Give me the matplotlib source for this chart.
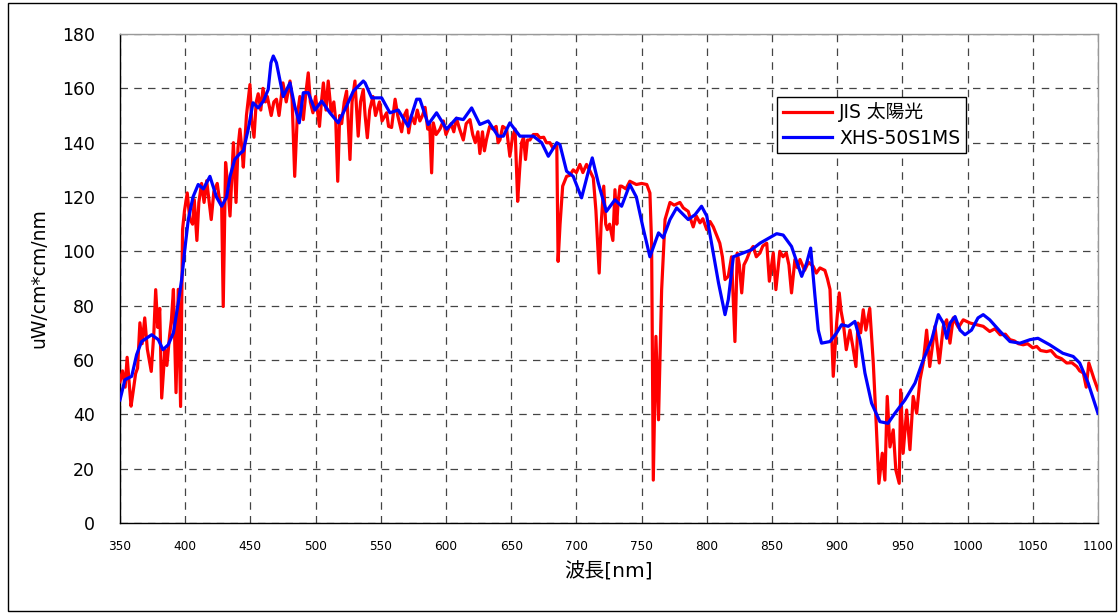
import matplotlib
matplotlib.use('Agg')
import matplotlib.pyplot as plt
from matplotlib.patches import Rectangle

plt.rcParams['font.family'] = ['DejaVu Sans', 'Noto Sans CJK JP']

# ── data ─────────────────────────────────────────────────────
jis_wl = [350, 352, 354, 355.5, 357, 358.5, 360, 362, 363.5, 365.3, 367, 369, 371, 374, 376,
          377.4, 379, 380.5, 382, 384.5, 386, 388, 389.5, 391, 393, 394.7, 396.5, 398, 399.5,
          401.6, 403.5, 405.7, 407, 409, 410.5, 412.6, 414.5, 416.5, 418, 420, 422, 424.6, 426,
          428, 429.2, 431, 432.5, 434.4, 437, 439, 440.5, 442, 443.5, 444.6, 447, 449.7, 451,
          452.8, 454.5, 456, 458, 459.7, 461.5, 463, 466, 468, 470, 472, 475, 477.5, 480.4, 482,
          484, 486, 488, 490.6, 492.5, 494.4, 496, 498, 500, 503, 504.5, 506, 508, 509.7, 512,
          514, 515.5, 517, 518.5, 520, 522, 523.8, 525, 526.4, 528, 530.2, 532.7, 534.5, 536.6,
          538, 539.7, 541.5, 544, 546, 549, 551, 554.5, 556, 558.3, 561, 563, 566, 568, 570,
          571.4, 573.5, 576, 578, 580, 582, 584, 586, 587.5, 589, 590.3, 592.5, 595.4, 598, 600,
          601.8, 604, 606, 608, 610.5, 613.3, 615.5, 618.4, 620.5, 622.5, 624.5, 626, 628, 629.5,
          631, 633.5, 636, 638.5, 640, 641.4, 643.5, 646.5, 649, 651, 653, 655, 656.5, 658,
          659.5, 661, 662.5, 664.4, 667, 670, 672, 675, 677, 679.7, 682, 685, 686, 687.5, 689.5,
          692.5, 695, 697.6, 700, 702.7, 705, 707.8, 710, 713, 715, 717.5, 719, 721, 722.5,
          723.7, 725.5, 728, 729.6, 731, 732, 733.5, 734.7, 738, 741, 746, 750, 754, 756.4,
          757.7, 759, 761, 763, 765.4, 768, 771.8, 775, 779.4, 782, 785.8, 787.5, 789.6, 792,
          794.8, 797, 800, 802.5, 805, 807.5, 810, 812, 814, 816.5, 819, 821.6, 823.4, 825,
          826.8, 828.5, 830.6, 833, 835.6, 838, 840.8, 843, 846, 848, 851, 853, 856, 858.5, 861,
          863, 865, 867.6, 869.5, 871.5, 875, 878, 881.6, 884, 886.8, 890.6, 892.5, 894.5, 897,
          899.6, 901.6, 903, 904.7, 907, 909.8, 912, 914.4, 916, 918, 920, 922, 925, 927.7,
          929.8, 932, 934.6, 936.6, 938.4, 940.5, 943, 945, 947.6, 948.7, 950.6, 953.3, 955.8,
          958.3, 961, 963.5, 966, 968.6, 971, 975, 978.3, 981.4, 984, 986.5, 989, 993, 996.7,
          1002, 1007, 1012, 1017, 1021, 1025, 1029, 1032.5, 1036, 1039, 1042.7, 1046, 1050,
          1053, 1056, 1060.6, 1064, 1068, 1072, 1076, 1080, 1083.7, 1086, 1088.8, 1091, 1093,
          1095, 1097, 1100]
jis_val = [52, 56, 50, 61, 52, 43, 48, 55, 57, 73.7, 66, 75.5, 64, 55.8, 70,
           85.9, 72, 79, 46, 63.8, 58, 68.7, 75, 86, 48, 86, 42.9, 108, 115,
           121.5, 112, 110, 119, 104, 118, 125, 118, 126, 120, 111.7, 122, 125, 120,
           116.6, 79.7, 132.7, 125, 113, 140, 118, 138, 145, 138, 131, 150, 161.4, 148,
           142, 155, 158, 152, 160, 155, 157, 150, 155, 156, 150, 162, 155, 162.7, 156,
           127.6, 150, 157, 148.5, 158, 165.7, 155, 151, 157, 146, 155, 162, 152, 162.7, 151,
           155, 148, 125.8, 150, 147, 155, 159, 148, 133.8, 155, 162.7, 142.4, 155, 159.6,
           150, 141.8, 152, 157, 150, 155, 148, 151, 146, 145.6, 156, 150, 144, 150, 152,
           143.6, 150, 147, 152, 148, 150, 153, 145, 147, 128.9, 147.3, 143, 145, 148, 143,
           145, 147, 144, 149, 145, 141, 147, 148.5, 143, 140, 144, 136, 144, 137,
           141, 146, 145, 146, 140, 141, 146, 145, 135, 142, 145, 118.4, 130, 140,
           142, 133.8, 141, 141, 143, 143, 141.8, 142, 140, 140, 138, 138.7, 96.3, 110, 124,
           127.6, 128, 130, 129, 132, 129, 132, 130, 127, 115, 92, 110, 124, 110,
           108, 110, 104, 122.7, 110, 118, 124, 124, 123, 125.8, 124.6, 125, 124.6, 121.5,
           103, 15.8, 68.7, 38, 85.9, 111.7, 118, 117, 118, 116, 114.7, 112, 109, 113,
           110.5, 112, 108, 111, 109, 106, 103, 98, 89.6, 90.8, 98, 66.8, 99.4, 95,
           84.7, 95, 97, 100, 101.8, 98, 99.4, 102, 103, 89, 99.4, 85.9, 100, 98, 99.4,
           95, 84.7, 97, 94, 97, 93, 96, 94.5, 92, 93.9, 93, 90, 86, 54,
           73.6, 84.7, 78, 73.6, 63.8, 71, 65, 57.6, 73.6, 70, 78.5, 71, 79, 58.9,
           38, 14.6, 25.7, 15.8, 46.6, 28, 34.3, 19.5, 14.6, 49, 25.7, 41.6, 27,
           46.6, 40.4, 52.7, 58.9, 71, 57.6, 72.4, 58.9, 72.4, 74.8, 66.2, 75.5, 72, 74.8,
           73.6, 73, 72.4, 70.5, 71.5, 69.3, 69.5, 67.5, 67, 66, 65.6, 66, 64.5,
           65, 63.5, 63.1, 63.5, 61.3, 60.5, 58.9, 59, 57.6, 56, 55.2, 50, 58.9,
           56, 53, 49]

xhs_wl = [350, 353.8, 359, 362.8, 366.6, 374.3, 379.4, 383, 387, 391, 394.7, 397.3, 400,
          402.4, 406, 410, 414, 419, 424, 428, 431.8, 434.4, 438, 442, 444.6, 448.4, 452, 456,
          460, 463.7, 465.8, 467.6, 470, 475.2, 480.4, 484, 487.5, 490.6, 494.4, 499.5, 504.7,
          511, 517.4, 523.8, 529, 536.6, 538, 543, 550.7, 557, 563.4, 571, 577.5, 580, 586.4,
          592.8, 600.5, 608, 613.3, 619.7, 626, 632.4, 640, 644, 649, 656.7, 667, 673.4, 678.5,
          685, 687.4, 692.5, 697.6, 704, 709, 712.2, 716.8, 723, 729.6, 734.7, 741, 746, 751,
          756.4, 763, 766.6, 771.8, 776.9, 785.8, 791, 796, 800, 805, 809, 814, 816.5, 820.4,
          828, 834.4, 840.8, 853.6, 858.6, 865, 872.8, 876.6, 879.7, 883, 885.5, 888, 894.5,
          899.6, 903.4, 908.5, 913.6, 917.5, 921.3, 926.4, 932.8, 939, 944.3, 952, 959.7, 966,
          972.5, 977.6, 981.4, 984, 986.5, 990.4, 994.2, 998, 1003, 1008, 1012, 1017, 1025,
          1032.5, 1040.2, 1048, 1054, 1063, 1073, 1081, 1086, 1092.5, 1100]
xhs_val = [45.3, 52.7, 54, 62, 66.8, 69.3, 67.5, 63.8, 65.6, 70, 81, 89.6, 101.8,
           111.7, 120, 124.6, 123, 127.6, 120, 116.6, 120, 127.6, 133.8, 136, 137, 145, 154.7,
           152.8, 155.3, 159.6, 169.4, 171.9, 169.4, 157, 162, 153.5, 147.3, 158.4, 158.4, 152,
           155.3, 151, 147.3, 153.5, 159, 162.7, 162, 156.5, 156.5, 151, 152, 146, 156, 156,
           146.7, 151, 145, 149, 148.5, 152.8, 146.7, 148, 142.4, 142.4, 147.3, 142.4, 142.4,
           140, 135, 140, 139.3, 129.5, 127.6, 119.7, 129, 134.4, 125.2, 114.7, 119, 116.6,
           124.6, 120, 109, 98, 106.8, 105, 111.7, 116, 111.7, 113.5, 116.6, 113, 99.4, 88.4,
           76.7, 82.2, 98, 99.4, 100.6, 103, 106.5, 106, 101.8, 90.8, 95.7, 101.2, 83.4, 71,
           66.2, 66.8, 70, 73, 72.4, 74.2, 67.5, 55.2, 44.1, 37.3, 36.7, 40.4, 45.3, 51.5, 60,
           67.5, 76.7, 73.6, 68, 73.6, 76, 71, 69.3, 71, 75.5, 76.7, 74.8, 70.5,
           66.8, 66.2, 67.5, 68, 65.6, 62.5, 61.3, 58.9, 51.5, 40.4]

x_ticks = list(range(350, 1101, 50))
y_ticks = list(range(0, 181, 20))

# ── figure ───────────────────────────────────────────────────
fig = plt.figure(figsize=(11.19, 6.14), dpi=100)
fig.patch.set_facecolor('white')
ax = fig.add_axes([0.1072, 0.1482, 0.8740, 0.7964])

ax.plot(jis_wl, jis_val, color='#ff0000', linewidth=2.3, label='JIS 太陽光', zorder=3)
ax.plot(xhs_wl, xhs_val, color='#0000ff', linewidth=2.3, label='XHS-50S1MS', zorder=4)

ax.set_xlim(350, 1100)
ax.set_ylim(0, 180)
ax.set_xticks(x_ticks)
ax.set_yticks(y_ticks)
ax.tick_params(axis='x', length=0, labelsize=8.7, pad=12)
ax.tick_params(axis='y', length=0, labelsize=12.5, pad=18)
ax.grid(True, color='#444444', linestyle=(0, (6, 5)), linewidth=0.9)
ax.set_axisbelow(True)

for side in ['left', 'bottom']:
    ax.spines[side].set_color('black')
    ax.spines[side].set_linewidth(1.0)
for side in ['top', 'right']:
    ax.spines[side].set_color('#999999')
    ax.spines[side].set_linewidth(1.0)

ax.set_xlabel('波長[nm]', fontsize=14.5, labelpad=7)
ax.set_ylabel('uW/cm*cm/nm', fontsize=13.5, labelpad=10)

leg = ax.legend(loc='upper left', bbox_to_anchor=(0.672, 0.872), fontsize=13.5,
                frameon=True, fancybox=False, framealpha=1, edgecolor='black',
                handlelength=2.6, handletextpad=0.4, borderpad=0.3, labelspacing=0.35,
                borderaxespad=0)
leg.get_frame().set_linewidth(1.0)

# outer chart border
fig.patches.append(Rectangle((8 / 1119, 3 / 614), 1108 / 1119, 608 / 614,
                             transform=fig.transFigure, fill=False,
                             edgecolor='black', linewidth=1.0))

fig.savefig('out.png', dpi=100, facecolor='white')
